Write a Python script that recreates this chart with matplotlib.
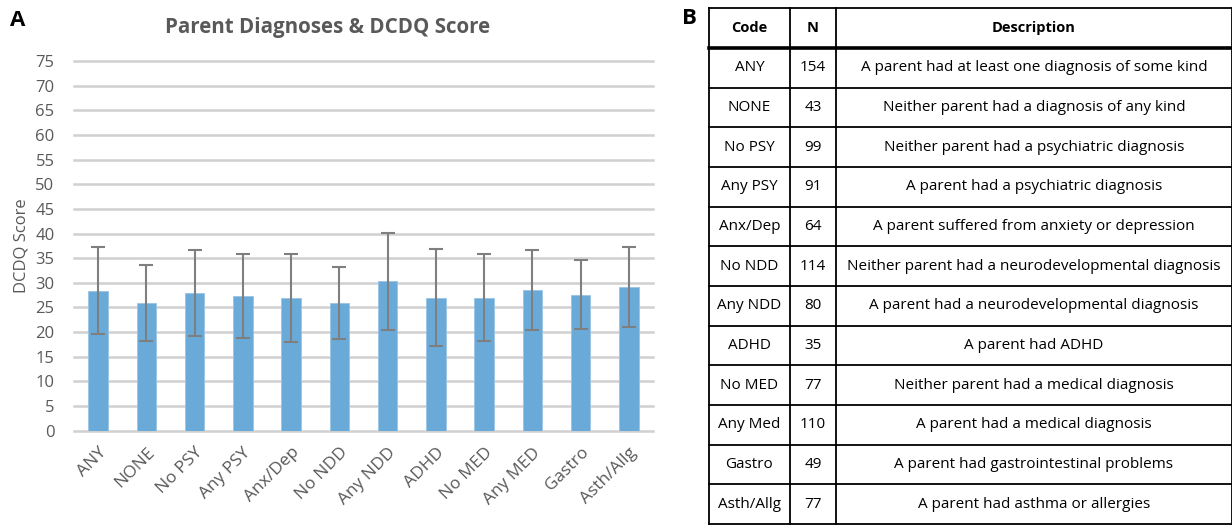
import matplotlib
matplotlib.use("Agg")
import matplotlib.pyplot as plt
import numpy as np

categories = ["ANY", "NONE", "No PSY", "Any PSY", "Anx/Dep", "No NDD", "Any NDD",
              "ADHD", "No MED", "Any MED", "Gastro", "Asth/Allg"]
means = [28.4, 25.9, 28.0, 27.4, 26.9, 26.0, 30.3, 27.0, 27.0, 28.5, 27.6, 29.2]
sds = [8.8, 7.8, 8.7, 8.5, 9.0, 7.3, 9.9, 9.9, 8.8, 8.1, 7.0, 8.1]
yticks = list(range(0, 80, 5))

table_codes = ["ANY", "NONE", "No PSY", "Any PSY", "Anx/Dep", "No NDD", "Any NDD",
               "ADHD", "No MED", "Any Med", "Gastro", "Asth/Allg"]
table_n = [154, 43, 99, 91, 64, 114, 80, 35, 77, 110, 49, 77]
table_desc = [
    "A parent had at least one diagnosis of some kind",
    "Neither parent had a diagnosis of any kind",
    "Neither parent had a psychiatric diagnosis",
    "A parent had a psychiatric diagnosis",
    "A parent suffered from anxiety or depression",
    "Neither parent had a neurodevelopmental diagnosis",
    "A parent had a neurodevelopmental diagnosis",
    "A parent had ADHD",
    "Neither parent had a medical diagnosis",
    "A parent had a medical diagnosis",
    "A parent had gastrointestinal problems",
    "A parent had asthma or allergies",
]
table_header = ["Code", "N", "Description"]

plt.rcParams['font.family'] = ['Open Sans', 'DejaVu Sans']
W, H = 1232, 525
fig = plt.figure(figsize=(W / 100, H / 100), dpi=100)

grey = "#595959"
# ---- Panel A ----
ax = fig.add_axes([74 / W, 1 - 430.7 / H, (653 - 74) / W, (430.7 - 61) / H])
x = np.arange(len(categories))
ax.bar(x, means, width=0.40, color="#6aaad9", edgecolor="#9cc3e4", linewidth=0.6, zorder=3)
ax.errorbar(x, means, yerr=sds, fmt="none", ecolor="#7f7f7f", elinewidth=1.5,
            capsize=5, capthick=1.5, zorder=4)
ax.set_ylim(0, 75)
ax.set_xlim(-0.5, len(categories) - 0.5)
ax.set_yticks(yticks)
ax.set_yticklabels([str(t) for t in yticks], fontsize=12, color=grey)
ax.set_xticks(x)
ax.set_xticklabels(categories, rotation=45, ha="right", rotation_mode="anchor",
                   fontsize=12.5, color=grey)
ax.tick_params(axis="x", length=0, pad=10)
ax.tick_params(axis="y", length=0, pad=14)
ax.grid(axis="y", color="#d0d0d0", linewidth=1.8, zorder=0)
for gl in ax.get_ygridlines():
    gl.set_clip_on(False)
for s in ax.spines.values():
    s.set_visible(False)
ax.set_ylabel("DCDQ Score", fontsize=12, color=grey, labelpad=4)
fig.text(328 / W, 1 - 27 / H, "Parent Diagnoses & DCDQ Score", ha="center", va="center",
         fontsize=14.8, fontweight="bold", color=grey)
fig.text(10 / W, 1 - 20 / H, "A", ha="left", va="center", fontsize=16, fontweight="bold")
fig.text(682 / W, 1 - 18 / H, "B", ha="left", va="center", fontsize=16, fontweight="bold")

# ---- Panel B: table ----
tl, tr, tt, tb = 709, 1232, 7.5, 524
tax = fig.add_axes([tl / W, 1 - tb / H, (tr - tl) / W, (tb - tt) / H])
tax.set_xlim(tl, tr)
tax.set_ylim(tb, tt)
tax.axis("off")
header_bottom = 48
nrows = len(table_codes)
row_h = (tb - header_bottom) / nrows
col_x = [tl, 790, 836, tr]
lw = 1.3
for cx in col_x:
    tax.plot([cx, cx], [tt, tb], color="black", lw=lw, clip_on=False)
tax.plot([tl, tr], [tt, tt], color="black", lw=lw, clip_on=False)
tax.plot([tl, tr], [header_bottom, header_bottom], color="black", lw=2.6, clip_on=False)
for i in range(1, nrows + 1):
    yy = header_bottom + i * row_h
    tax.plot([tl, tr], [yy, yy], color="black", lw=lw, clip_on=False)
centers = [(col_x[j] + col_x[j + 1]) / 2 for j in range(3)]
for j, h in enumerate(table_header):
    tax.text(centers[j], (tt + header_bottom) / 2, h, ha="center", va="center",
             fontsize=10.5, fontweight="bold")
for i in range(nrows):
    yc = header_bottom + (i + 0.5) * row_h
    tax.text(centers[0], yc, table_codes[i], ha="center", va="center", fontsize=11)
    tax.text(centers[1], yc, str(table_n[i]), ha="center", va="center", fontsize=11)
    tax.text(centers[2], yc, table_desc[i], ha="center", va="center", fontsize=11)

fig.savefig("out.png", dpi=100)
